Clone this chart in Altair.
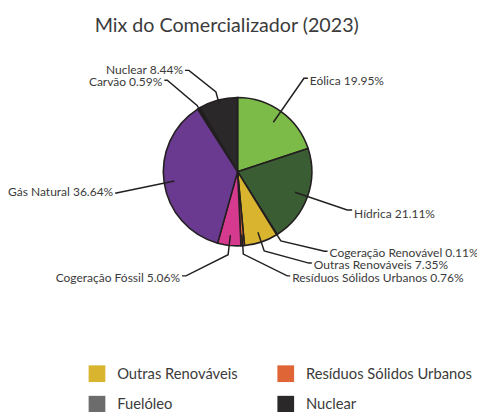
import math
import altair as alt
import pandas as pd

# ---------------- data ----------------
title_text = "Mix do Comercializador (2023)"
categories = ["Eólica", "Hídrica", "Cogeração Renovável", "Outras Renováveis",
              "Resíduos Sólidos Urbanos", "Cogeração Fóssil", "Gás Natural",
              "Carvão", "Nuclear"]
shares = [19.95, 21.11, 0.11, 7.35, 0.76, 5.06, 36.64, 0.59, 8.44]
legend_entries = ["Outras Renováveis", "Resíduos Sólidos Urbanos", "Fuelóleo", "Nuclear"]
palette_domain = categories + ["Fuelóleo"]
palette_range = ["#7dbb48", "#3a5d33", "#a5c85a", "#d9b52f", "#e06536",
                 "#d53a8f", "#693a8f", "#1e1c1d", "#2a2829", "#6c6c6c"]

# ---------------- layout (pixels inside the 8px page margin) ----------------
W, H = 477, 404
CX, CY, R = 233.5, 163.0, 75.5
FONT = "Lato"
TEXT_COLOR = "#3b3b3b"
LINE_COLOR = "#231f20"

# per label: start radius, elbow radius (or None), bend point, tail end, align, text dy
label_layout = {
    "Eólica":                   (62, None, (301, 68), (305, 68), "left", 7),
    "Hídrica":                  (62, None, (345, 202), (350, 202), "left", 8),
    "Cogeração Renovável":      (76, 83, (322, 244), (325, 244), "left", 6),
    "Outras Renováveis":        (65, 85, (306, 256), (309, 256), "left", 6),
    "Resíduos Sólidos Urbanos": (64, 84, (284, 269), (287, 269), "left", 6),
    "Cogeração Fóssil":         (65, 85, (181, 269), (177, 269), "right", 6),
    "Gás Natural":              (65, None, (109, 185), (109, 185), "right", 3),
    "Carvão":                   (76, 79, (162, 70), (159, 70), "right", 6),
    "Nuclear":                  (72, 84, (184, 60), (180, 60), "right", 4),
}

total = sum(shares)
pie_df = pd.DataFrame({"category": categories, "value": shares,
                       "order": list(range(len(categories)))})

line_rows, text_rows = [], []
cum = 0.0
for cat, v in zip(categories, shares):
    mid = (cum + v / 2) / total * 2 * math.pi
    cum += v
    r0, r1, bend, tail, align, dy = label_layout[cat]
    pts = [(CX + r0 * math.sin(mid), CY - r0 * math.cos(mid))]
    if r1 is not None:
        pts.append((CX + r1 * math.sin(mid), CY - r1 * math.cos(mid)))
    pts += [bend, tail]
    for i, (px, py) in enumerate(pts):
        line_rows.append({"category": cat, "i": i, "x": px, "y": py})
    tx = tail[0] + (2 if align == "left" else -2)
    text_rows.append({"category": cat, "label": f"{cat} {v:.2f}%",
                      "x": tx, "y": tail[1] + dy, "align": align})

lines_df = pd.DataFrame(line_rows)
text_df = pd.DataFrame(text_rows)

xs = alt.Scale(domain=[0, W], nice=False, zero=False)
ys = alt.Scale(domain=[0, H], reverse=True, nice=False, zero=False)

pie = alt.Chart(pie_df).mark_arc(
    outerRadius=R, stroke=LINE_COLOR, strokeWidth=1.6
).encode(
    theta=alt.Theta("value:Q", stack=True),
    order=alt.Order("order:Q"),
    color=alt.Color(
        "category:N",
        scale=alt.Scale(domain=palette_domain, range=palette_range),
        legend=alt.Legend(
            title=None, values=legend_entries, orient="none",
            legendX=82, legendY=360, direction="horizontal", columns=2,
            symbolType="square", symbolSize=289, symbolStrokeWidth=0,
            symbolOpacity=1, labelFont=FONT, labelFontSize=15,
            labelColor=TEXT_COLOR, labelOffset=12, columnPadding=40,
            rowPadding=14, padding=0, labelLimit=300,
        ),
    ),
    x=alt.value(CX), y=alt.value(CY),
)

leaders = alt.Chart(lines_df).mark_line(
    color=LINE_COLOR, strokeWidth=1.5
).encode(
    x=alt.X("x:Q", scale=xs, axis=None),
    y=alt.Y("y:Q", scale=ys, axis=None),
    detail="category:N",
    order="i:Q",
)

def label_layer(align):
    return alt.Chart(text_df[text_df["align"] == align]).mark_text(
        align=align, baseline="alphabetic", font=FONT, fontSize=12.2,
        color=TEXT_COLOR
    ).encode(
        x=alt.X("x:Q", scale=xs, axis=None),
        y=alt.Y("y:Q", scale=ys, axis=None),
        text="label:N",
    )

title = alt.Chart(pd.DataFrame({"t": [title_text]})).mark_text(
    align="center", baseline="alphabetic", font=FONT, fontSize=20,
    color=TEXT_COLOR
).encode(x=alt.value(222.5), y=alt.value(20.5), text="t:N")

chart = alt.layer(pie, leaders, label_layer("left"), label_layer("right"), title).properties(
    width=W, height=H, autosize=alt.AutoSizeParams(type="none"), padding=0
).configure_view(stroke=None)

chart.save("out.html", embed_options={"renderer": "svg", "actions": False})
